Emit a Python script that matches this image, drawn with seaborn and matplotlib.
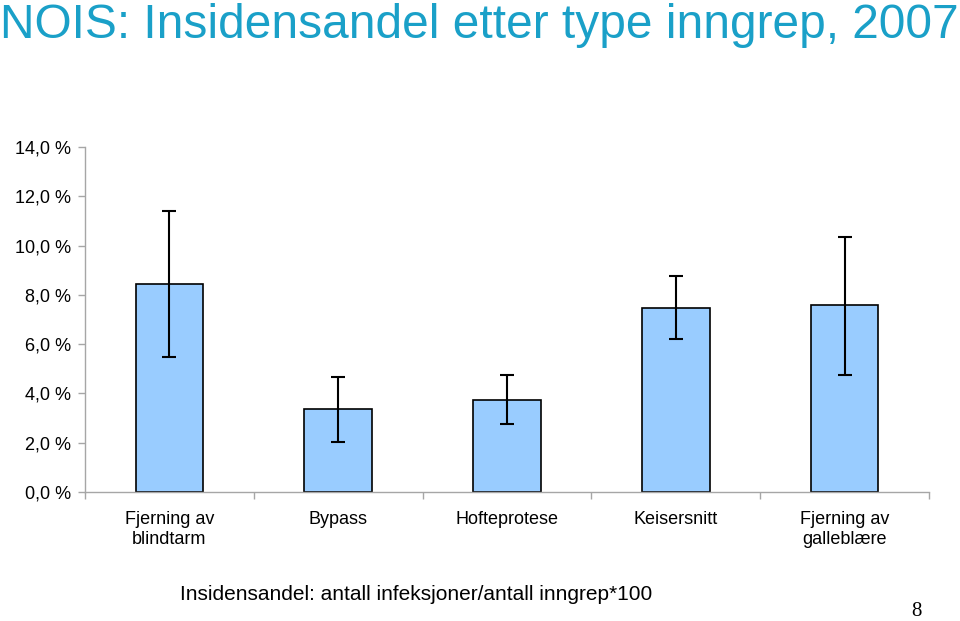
import matplotlib
matplotlib.use("Agg")
import matplotlib.pyplot as plt
import seaborn as sns
import pandas as pd
import numpy as np
from matplotlib.ticker import FuncFormatter, FixedLocator

categories = ["Fjerning av\nblindtarm", "Bypass", "Hofteprotese", "Keisersnitt", "Fjerning av\ngalleblære"]
values = [8.45, 3.35, 3.75, 7.47, 7.58]
err_low = [5.48, 2.03, 2.76, 6.21, 4.75]
err_high = [11.40, 4.67, 4.75, 8.77, 10.35]
yticks = [0, 2, 4, 6, 8, 10, 12, 14]

sns.set_theme(style="white")
plt.rcParams['font.family'] = ['Liberation Sans', 'DejaVu Sans']

fig = plt.figure(figsize=(9.6, 6.21), dpi=100)
ax = fig.add_axes([85/960, (621-492)/621, (929-85)/960, (492-147)/621])

df = pd.DataFrame({"cat": categories, "val": values})
sns.barplot(data=df, x="cat", y="val", ax=ax, color="#99CCFF", edgecolor="black",
            linewidth=1.2, width=0.4, saturation=1)
vals = np.array(values)
yerr = np.vstack([vals - np.array(err_low), np.array(err_high) - vals])
ax.errorbar(np.arange(len(values)), vals, yerr=yerr, fmt="none", ecolor="black",
            elinewidth=1.5, capsize=5, capthick=1.5)

ax.set_xlim(-0.5, len(values) - 0.5)
ax.set_ylim(0, 14)
ax.yaxis.set_major_locator(FixedLocator(yticks))
ax.yaxis.set_major_formatter(FuncFormatter(lambda v, p: f"{v:.1f}".replace(".", ",") + " %"))
ax.set_xlabel("")
ax.set_ylabel("")

for s in ["top", "right"]:
    ax.spines[s].set_visible(False)
for s in ["left", "bottom"]:
    ax.spines[s].set_color("#A6A6A6")
    ax.spines[s].set_linewidth(1.0)

ax.tick_params(axis="y", which="major", left=True, length=5, color="#A6A6A6", width=1,
               labelsize=13, labelcolor="black", pad=5)
ax.tick_params(axis="x", which="major", bottom=False, length=0, labelsize=13,
               labelcolor="black", pad=14)
ax.set_xticks(np.arange(-0.5, len(values)), minor=True)
ax.tick_params(axis="x", which="minor", bottom=True, length=5, color="#A6A6A6", width=1)

fig.text(0.0, 1.0 - 3/621, "NOIS: Insidensandel etter type inngrep, 2007",
         ha="left", va="top", fontsize=34.5, color="#1AA0C8")
fig.text(180/960, 1 - 594/621, "Insidensandel: antall infeksjoner/antall inngrep*100",
         ha="left", va="center", fontsize=15, color="black")
fig.text(916/960, 1 - 611/621, "8", ha="center", va="center", fontsize=15,
         color="black", family=["Liberation Serif", "DejaVu Serif"])

fig.savefig("out.png", dpi=100)
